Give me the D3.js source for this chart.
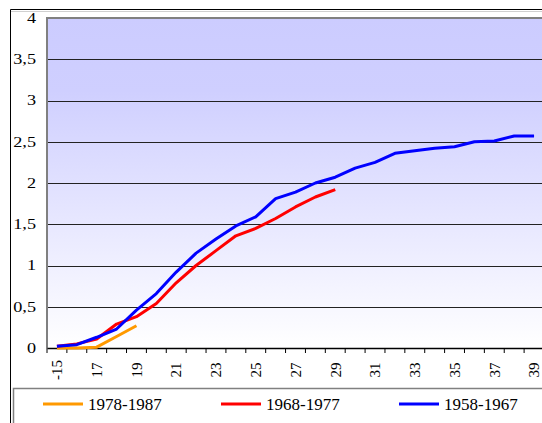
<!DOCTYPE html>
<html>
<head>
<meta charset="utf-8">
<script src="https://cdn.jsdelivr.net/npm/d3@7"></script>
<style>
  body { margin: 0; background: #fff; }
  svg { display: block; }
  text { font-family: "Liberation Serif", "Times New Roman", serif; fill: #000; }
</style>
</head>
<body>
<svg width="542" height="423"></svg>
<script>
// categories (age) and series
const ages = ["-15", "16", "17", "18", "19", "20", "21", "22", "23", "24", "25", "26", "27",
  "28", "29", "30", "31", "32", "33", "34", "35", "36", "37", "38", "39"];
const tickLabels = ["-15", "17", "19", "21", "23", "25", "27", "29", "31", "33", "35", "37", "39"];
const yTicks = [0, 0.5, 1, 1.5, 2, 2.5, 3, 3.5, 4];

const s1978 = [0.00, 0.00, 0.01, 0.14, 0.27];
const s1968 = [0.02, 0.05, 0.11, 0.29, 0.38, 0.54, 0.79, 1.00, 1.18, 1.36, 1.45, 1.57, 1.71, 1.83, 1.92];
const s1958 = [0.02, 0.04, 0.13, 0.23, 0.46, 0.66, 0.92, 1.15, 1.32, 1.48, 1.59, 1.81, 1.89, 2.00, 2.07,
  2.18, 2.25, 2.36, 2.39, 2.42, 2.44, 2.50, 2.51, 2.57, 2.57];

const series = [
  { name: "1978-1987", values: s1978, color: "#ff9900" },
  { name: "1968-1977", values: s1968, color: "#ff0000" },
  { name: "1958-1967", values: s1958, color: "#0000ff" }
];

const svg = d3.select("svg");
const pLeft = 47, pRight = 544, pTop = 18, pBottom = 348;

const x = d3.scaleBand().domain(ages).range([pLeft, pRight]).padding(0);
const y = d3.scaleLinear().domain([0, 4]).range([pBottom, pTop]);
const cx = (a) => x(a) + x.bandwidth() / 2;

// outer chart border
svg.append("line").attr("x1", 10.5).attr("x2", 542).attr("y1", 9.5).attr("y2", 9.5).attr("stroke", "#000");
svg.append("line").attr("x1", 10.5).attr("x2", 542).attr("y1", 11.5).attr("y2", 11.5).attr("stroke", "#d0d0d0");
svg.append("line").attr("x1", 10.5).attr("x2", 10.5).attr("y1", 9.5).attr("y2", 423).attr("stroke", "#000");

// plot background gradient
const grad = svg.append("defs").append("linearGradient")
  .attr("id", "bg").attr("x1", 0).attr("y1", 0).attr("x2", 0).attr("y2", 1);
grad.append("stop").attr("offset", "0%").attr("stop-color", "#ccccff");
grad.append("stop").attr("offset", "22%").attr("stop-color", "#cfcfff");
grad.append("stop").attr("offset", "100%").attr("stop-color", "#ffffff");

svg.append("rect")
  .attr("x", pLeft).attr("y", pTop)
  .attr("width", pRight - pLeft).attr("height", pBottom - pTop)
  .attr("fill", "url(#bg)");

// gridlines
svg.append("g")
  .selectAll("line")
  .data(yTicks.filter((d) => d > 0 && d < 4))
  .enter()
  .append("line")
  .attr("x1", pLeft).attr("x2", pRight)
  .attr("y1", (d) => Math.round(y(d)) + 0.5)
  .attr("y2", (d) => Math.round(y(d)) + 0.5)
  .attr("stroke", "#222")
  .attr("stroke-width", 1);

// plot frame (top + left grey)
svg.append("path")
  .attr("d", `M${pLeft},${pBottom}V${pTop}H${pRight}`)
  .attr("fill", "none")
  .attr("stroke", "#808080")
  .attr("stroke-width", 2);

// y labels (a bit wide in the original)
svg.append("g")
  .selectAll("text")
  .data(yTicks)
  .enter()
  .append("text")
  .attr("transform", (d) => `translate(36,${y(d)}) scale(1.3,1)`)
  .attr("dy", "0.35em")
  .attr("text-anchor", "end")
  .attr("font-size", 14)
  .text((d) => String(d).replace(".", ","));

// x axis
const xAxis = d3.axisBottom(x).tickSize(0).tickFormat("");
svg.append("g").attr("transform", `translate(0,${pBottom})`).call(xAxis)
  .select(".domain").attr("stroke", "#000").attr("stroke-width", 1.5);

svg.append("g")
  .selectAll("line")
  .data(ages.concat(["end"]))
  .enter()
  .append("line")
  .attr("x1", (d, i) => pLeft + i * x.bandwidth())
  .attr("x2", (d, i) => pLeft + i * x.bandwidth())
  .attr("y1", pBottom)
  .attr("y2", pBottom + 5)
  .attr("stroke", "#000");

svg.append("g")
  .selectAll("text")
  .data(tickLabels)
  .enter()
  .append("text")
  .attr("transform", (d) => `translate(${cx(d)},370) rotate(-90)`)
  .attr("text-anchor", "middle")
  .attr("dy", "0.35em")
  .attr("font-size", 15)
  .text((d) => d);

// lines
const line = d3.line()
  .x((d, i) => cx(ages[i]))
  .y((d) => y(d));

svg.append("g")
  .selectAll("path")
  .data(series)
  .enter()
  .append("path")
  .attr("d", (s) => line(s.values))
  .attr("fill", "none")
  .attr("stroke", (s) => s.color)
  .attr("stroke-width", 3)
  .attr("stroke-linejoin", "round");

// legend
svg.append("rect")
  .attr("x", 13.5).attr("y", 388.5)
  .attr("width", 540).attr("height", 60)
  .attr("fill", "#fff")
  .attr("stroke", "#808080")
  .attr("stroke-width", 1.5);

const legendX = [43, 221, 399];
const lg = svg.append("g")
  .selectAll("g")
  .data(series)
  .enter()
  .append("g")
  .attr("transform", (d, i) => `translate(${legendX[i]},404)`);

lg.append("line")
  .attr("x1", 0).attr("x2", 40)
  .attr("stroke", (d) => d.color)
  .attr("stroke-width", 3);

lg.append("text")
  .attr("x", 45)
  .attr("dy", "0.35em")
  .attr("font-size", 17)
  .text((d) => d.name);
</script>
</body>
</html>
